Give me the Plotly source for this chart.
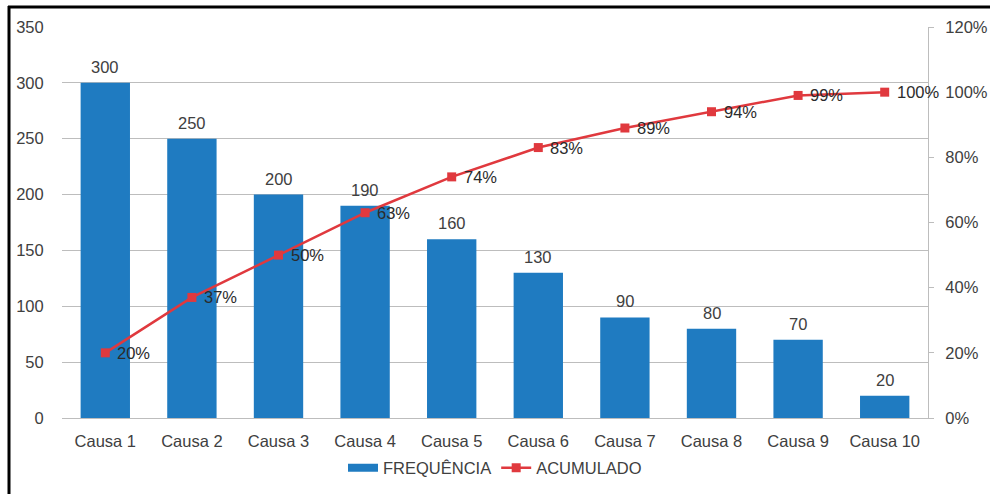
import plotly.graph_objects as go

# Pareto data
causas = ["Causa 1", "Causa 2", "Causa 3", "Causa 4", "Causa 5",
          "Causa 6", "Causa 7", "Causa 8", "Causa 9", "Causa 10"]
frequencia = [300, 250, 200, 190, 160, 130, 90, 80, 70, 20]
acumulado = [20, 37, 50, 63, 74, 83, 89, 94, 99, 100]

left_ticks = [0, 50, 100, 150, 200, 250, 300, 350]
right_ticks = [0, 20, 40, 60, 80, 100, 120]

BLUE = "#1F7BC1"
RED = "#E0393E"
TEXT = "#404040"
DARK = "#2B2B2B"
GRID = "#BDBDBD"
FONT = "Liberation Sans, Arial, sans-serif"
FS = 16.5

fig = go.Figure()

fig.add_trace(go.Bar(
    x=causas, y=frequencia, name="FREQUÊNCIA", showlegend=False,
    marker=dict(color=BLUE, line=dict(width=0)),
))

# legend key for the bars: a wide flat block, as in spreadsheet charts
fig.add_trace(go.Scatter(
    x=[None], y=[None], name="FREQUÊNCIA", mode="lines",
    line=dict(color=BLUE, width=8),
))

fig.add_trace(go.Scatter(
    x=causas, y=acumulado, name="ACUMULADO", yaxis="y2",
    mode="lines+markers",
    line=dict(color=RED, width=2.5),
    marker=dict(symbol="square", size=9, color=RED),
    cliponaxis=False,
))

# value labels above the bars
for c, v in zip(causas, frequencia):
    fig.add_annotation(x=c, y=v, xref="x", yref="y", text=str(v),
                       showarrow=False, yanchor="bottom", yshift=5,
                       font=dict(family=FONT, size=FS, color=TEXT))

# cumulative percentage labels to the right of each marker
for c, v in zip(causas, acumulado):
    fig.add_annotation(x=c, y=v, xref="x", yref="y2", text=f"{v}%",
                       showarrow=False, xanchor="left", yanchor="middle",
                       xshift=10, font=dict(family=FONT, size=FS, color=DARK))

fig.update_layout(
    width=990, height=494,
    margin=dict(l=62, r=62, t=27, b=76, autoexpand=False),
    paper_bgcolor="white", plot_bgcolor="white",
    font=dict(family=FONT, size=FS, color=TEXT),
    bargap=0.43,
    showlegend=True,
    legend=dict(orientation="h", x=0.5, xanchor="center",
                y=-0.128, yanchor="middle",
                font=dict(family=FONT, size=FS, color=TEXT),
                itemwidth=30, tracegroupgap=0),
    xaxis=dict(range=[-0.5, len(causas) - 0.5],
               showgrid=False, showline=True, linecolor=GRID, linewidth=1,
               ticks="outside", ticklen=8, tickcolor="rgba(0,0,0,0)",
               tickfont=dict(family=FONT, size=FS, color=TEXT),
               zeroline=False, automargin=False),
    yaxis=dict(range=[0, 350], tickvals=left_ticks, showgrid=True,
               gridcolor=GRID, gridwidth=1, showline=False, zeroline=False,
               ticks="outside", ticklen=14, tickcolor="rgba(0,0,0,0)",
               tickfont=dict(family=FONT, size=FS, color=TEXT),
               automargin=False),
    yaxis2=dict(range=[0, 120], tickvals=right_ticks,
                ticktext=[f"{t}%" for t in right_ticks],
                overlaying="y", side="right", showgrid=False,
                showline=True, linecolor=GRID, linewidth=1, zeroline=False,
                ticks="outside", ticklen=5, tickcolor=GRID,
                ticklabelstandoff=8, automargin=False,
                tickfont=dict(family=FONT, size=FS, color=TEXT)),
    shapes=[
        # frame lines at the top and left edges of the image
        dict(type="line", xref="paper", yref="paper",
             x0=-54 / 866, x1=1 + 62 / 866, y0=1 + 20 / 391, y1=1 + 20 / 391,
             line=dict(color="black", width=3)),
        dict(type="line", xref="paper", yref="paper",
             x0=-53 / 866, x1=-53 / 866, y0=1 + 21 / 391, y1=-76 / 391,
             line=dict(color="black", width=3)),
    ],
)

fig.write_html("out.html")
